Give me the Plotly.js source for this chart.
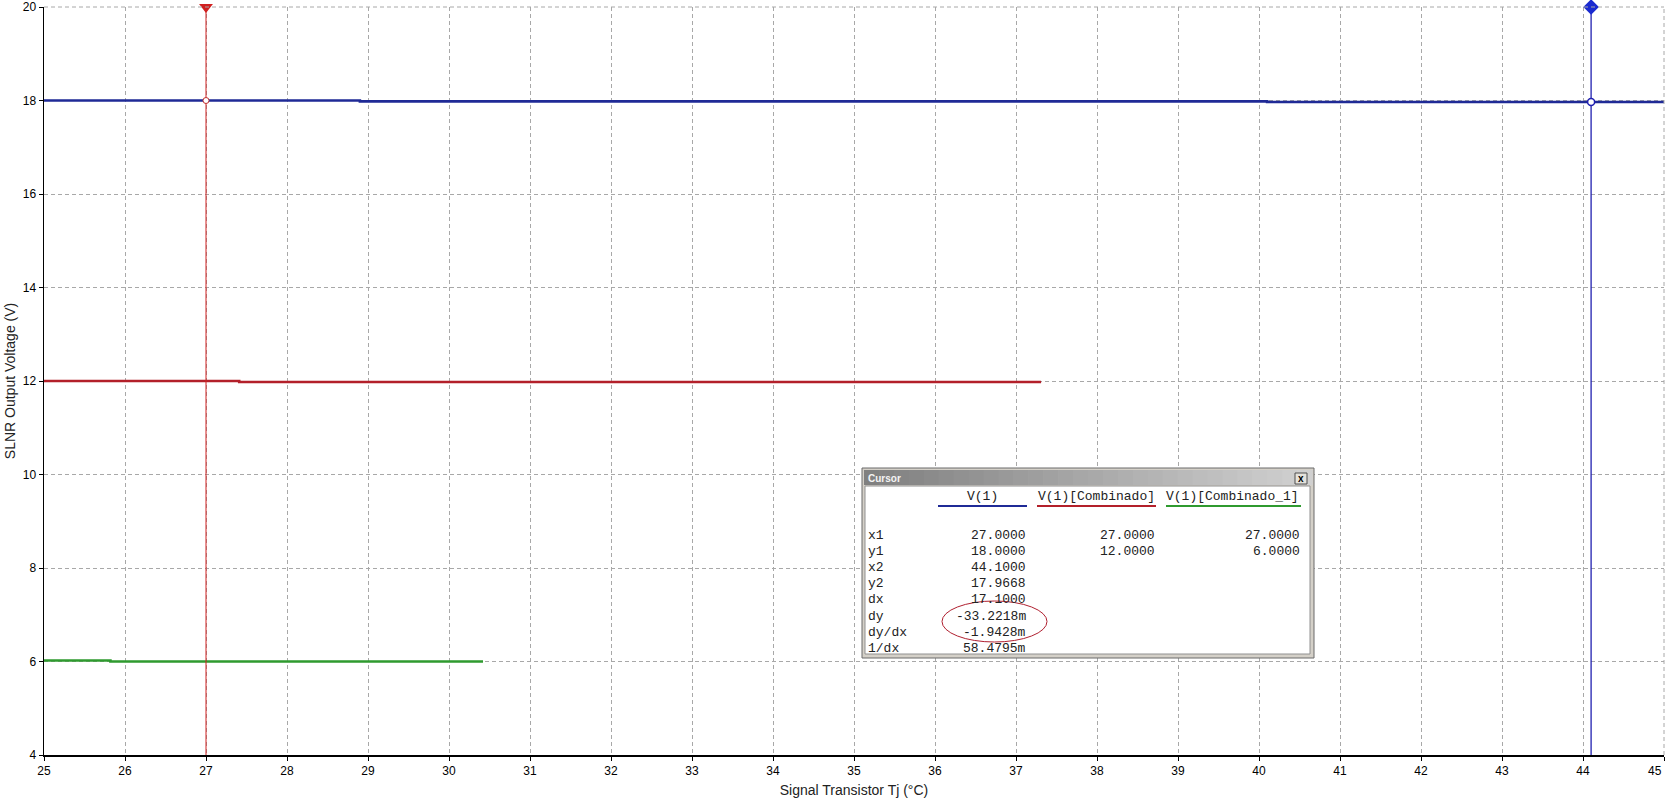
<!DOCTYPE html>
<html>
<head>
<meta charset="utf-8">
<script src="https://cdn.plot.ly/plotly-3.0.1.min.js"></script>
<style>html,body{margin:0;padding:0;background:#fff;}#chart{width:1665px;height:806px;}</style>
</head>
<body>
<div id="chart"></div>
<script>
// ---- data ----
const blueX = [25, 28.9, 40.1, 45];
const blueY = [18.0, 17.982, 17.9668, 17.9668];
const redX = [25, 27.41, 37.31];
const redY = [12.0, 11.98, 11.98];
const greenX = [25, 25.82, 30.42];
const greenY = [6.02, 6.0, 6.0];
const cursorX = [27, 44.1];
const cursorY = [18.0, 17.9668];
const xTicks = [25,26,27,28,29,30,31,32,33,34,35,36,37,38,39,40,41,42,43,44,45];
const yTicks = [4,6,8,10,12,14,16,18,20];
const seriesNames = ['V(1)', 'V(1)[Combinado]', 'V(1)[Combinado_1]'];
const rowLabels = ['x1','y1','x2','y2','dx','dy','dy/dx','1/dx'];
const col1 = ['27.0000','18.0000','44.1000','17.9668','17.1000','-33.2218m','-1.9428m','58.4795m'];
const col2 = ['27.0000','12.0000','','','','','',''];
const col3 = ['27.0000','6.0000','','','','','',''];

const BLUE = '#1f2a96', RED = '#b3202a', GREEN = '#2f9a2f';
const W = 1665, H = 806;
const ML = 44, MR = 1, MT = 7, MB = 51;
const PW = W - ML - MR, PH = H - MT - MB;
const px = p => (p - ML) / PW;
const py = p => (H - MB - p) / PH;

const traces = [
  {x: blueX, y: blueY, mode:'lines', line:{color:BLUE, width:2.6, shape:'hv'}, name:seriesNames[0]},
  {x: redX, y: redY, mode:'lines', line:{color:RED, width:2.6, shape:'hv'}, name:seriesNames[1]},
  {x: greenX, y: greenY, mode:'lines', line:{color:GREEN, width:2.6, shape:'hv'}, name:seriesNames[2]},
  {x: [cursorX[0], cursorX[0]], y: [yTicks[0], yTicks[yTicks.length-1]], mode:'lines', line:{color:'#d02020', width:1}},
  {x: [cursorX[1], cursorX[1]], y: [yTicks[0], yTicks[yTicks.length-1]], mode:'lines', line:{color:'#2020b0', width:1.3}},
  {x: [cursorX[0]], y: [cursorY[0]], mode:'markers', marker:{symbol:'circle', size:6, color:'#ffffff', line:{width:1, color:'#c03030'}}},
  {x: [cursorX[1]], y: [cursorY[1]], mode:'markers', marker:{symbol:'circle', size:7, color:'#ffffff', line:{width:1.5, color:'#2020b0'}}},
  {x: [cursorX[0]], y: [yTicks[yTicks.length-1]], mode:'markers', cliponaxis:false, marker:{symbol:'triangle-down', size:12, color:'#d02020'}},
  {x: [cursorX[1]], y: [yTicks[yTicks.length-1]], mode:'markers', cliponaxis:false, marker:{symbol:'diamond', size:12, color:'#1a2ad0'}}
];

const shapes = [];
const ann = [];
// grid edges (top / right)
shapes.push({type:'line', xref:'paper', yref:'paper', x0:0, x1:1, y0:1, y1:1, line:{color:'#a8a8a8', width:1, dash:'4px,3px'}});
shapes.push({type:'line', xref:'paper', yref:'paper', x0:1, x1:1, y0:0, y1:1, line:{color:'#a8a8a8', width:1, dash:'4px,3px'}});

// cursor window
const bx0 = 862, bx1 = 1314, by0 = 468, by1 = 658;
shapes.push({type:'rect', xref:'paper', yref:'paper', x0:px(bx0), x1:px(bx1), y0:py(by1), y1:py(by0), fillcolor:'#d4d0c8', line:{color:'#6a6a6a', width:1}, layer:'above'});
shapes.push({type:'rect', xref:'paper', yref:'paper', x0:px(bx0+3), x1:px(bx1-4), y0:py(by1-4), y1:py(486), fillcolor:'#ffffff', line:{color:'#909090', width:1}, layer:'above'});
// title bar gradient
const nStripes = 30;
for (let i = 0; i < nStripes; i++) {
  const t = i / (nStripes - 1);
  const c = Math.round(128 + t * (208 - 128));
  const xa = bx0 + 2 + i * (bx1 - bx0 - 4) / nStripes;
  const xb = bx0 + 2 + (i + 1) * (bx1 - bx0 - 4) / nStripes + 0.6;
  shapes.push({type:'rect', xref:'paper', yref:'paper', x0:px(xa), x1:px(xb), y0:py(485), y1:py(470), fillcolor:`rgb(${c},${c},${c})`, line:{width:0}, layer:'above'});
}
// close button
shapes.push({type:'rect', xref:'paper', yref:'paper', x0:px(1295), x1:px(1307), y0:py(484), y1:py(473), fillcolor:'#e4e2dc', line:{color:'#505050', width:1}, layer:'above'});
ann.push({xref:'paper', yref:'paper', x:px(1301), y:py(478.5), text:'<b>x</b>', showarrow:false, font:{family:'Liberation Sans, Arial', size:10, color:'#000'}, xanchor:'center', yanchor:'middle'});
ann.push({xref:'paper', yref:'paper', x:px(866), y:py(478), text:'<b>Cursor</b>', showarrow:false, font:{family:'Liberation Sans, Arial', size:10, color:'#f4f4f4'}, xanchor:'left', yanchor:'middle'});

const mono = {family:'Liberation Mono, Courier New, monospace', size:13, color:'#222'};
const headCx = [982, 1096, 1232];
const colors = [BLUE, RED, GREEN];
const ulines = [[938,1027],[1037,1156],[1166,1301]];
for (let i = 0; i < 3; i++) {
  ann.push({xref:'paper', yref:'paper', x:px(headCx[i]), y:py(496.5), text:seriesNames[i], showarrow:false, font:mono, xanchor:'center', yanchor:'middle'});
  shapes.push({type:'line', xref:'paper', yref:'paper', x0:px(ulines[i][0]), x1:px(ulines[i][1]), y0:py(506), y1:py(506), line:{color:colors[i], width:2}, layer:'above'});
}
const colRight = [1027, 1156, 1301];
const cols = [col1, col2, col3];
for (let r = 0; r < rowLabels.length; r++) {
  const yy = 535 + r * 16.2;
  ann.push({xref:'paper', yref:'paper', x:px(866), y:py(yy), text:rowLabels[r], showarrow:false, font:mono, xanchor:'left', yanchor:'middle'});
  for (let c = 0; c < 3; c++) {
    if (cols[c][r]) ann.push({xref:'paper', yref:'paper', x:px(colRight[c]+1), y:py(yy), text:cols[c][r], showarrow:false, font:mono, xanchor:'right', yanchor:'middle'});
  }
}
// red ellipse around dy values
shapes.push({type:'circle', xref:'paper', yref:'paper', x0:px(942), x1:px(1047), y0:py(642), y1:py(601), line:{color:'#b02030', width:1}, layer:'above'});

const axFont = {family:'Liberation Sans, Arial, sans-serif', size:12, color:'#000'};
// last x tick label drawn right-aligned so it stays inside the page
const lastX = xTicks[xTicks.length - 1];
ann.push({xref:'x', yref:'paper', x:lastX, y:py(771), text:String(lastX), showarrow:false, font:axFont, xanchor:'right', yanchor:'middle', xshift:0});

const layout = {
  width: W, height: H,
  margin: {l:ML, r:MR, t:MT, b:MB, pad:0},
  paper_bgcolor:'#fff', plot_bgcolor:'#fff',
  showlegend:false,
  xaxis: {
    range:[xTicks[0], lastX], tickvals:xTicks, ticktext:xTicks.map(v => v === lastX ? '' : String(v)),
    showgrid:true, gridcolor:'#a8a8a8', griddash:'4px,3px', gridwidth:1,
    showline:true, linecolor:'#000', linewidth:1.5, zeroline:false,
    ticks:'outside', ticklen:4, tickcolor:'#000', tickfont:axFont,
    title:{text:'Signal Transistor Tj (°C)', font:{family:'Liberation Sans, Arial, sans-serif', size:14, color:'#222'}, standoff:8}
  },
  yaxis: {
    range:[yTicks[0], yTicks[yTicks.length-1]], tickvals:yTicks, ticktext:yTicks.map(String),
    showgrid:true, gridcolor:'#a8a8a8', griddash:'4px,3px', gridwidth:1,
    showline:true, linecolor:'#000', linewidth:1.5, zeroline:false,
    ticks:'outside', ticklen:4, tickcolor:'#000', tickfont:axFont, ticklabeloverflow:'allow',
    title:{text:'SLNR Output Voltage (V)', font:{family:'Liberation Sans, Arial, sans-serif', size:14, color:'#222'}, standoff:4}
  },
  shapes: shapes,
  annotations: ann
};
Plotly.newPlot('chart', traces, layout, {displayModeBar:false, staticPlot:true});
</script>
</body>
</html>
